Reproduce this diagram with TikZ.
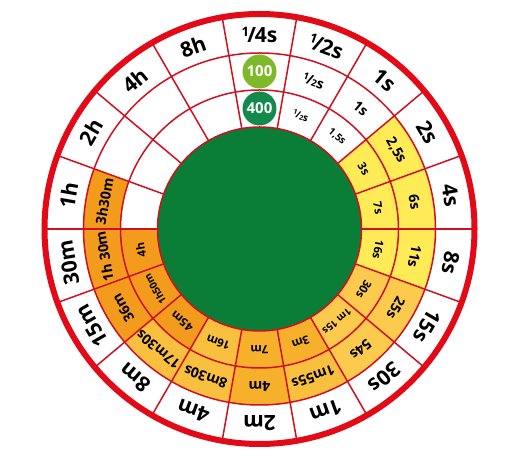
\documentclass[tikz,border=0pt]{standalone}
\usepackage{fontspec}
\setmainfont{Open Sans}
\definecolor{ringred}{HTML}{E30A17}
\definecolor{linered}{HTML}{CF1020}
\definecolor{disc}{HTML}{0A7E36}
\definecolor{cyel}{HTML}{FFEB55}
\definecolor{clor}{HTML}{FCCB4E}
\definecolor{cmor}{HTML}{F9BF3E}
\definecolor{cmdo}{HTML}{F7B02C}
\definecolor{cdor}{HTML}{F39B1C}
\definecolor{bliteg}{HTML}{7DB928}
\definecolor{bdarkg}{HTML}{138A4C}
\newcommand\ringcell[4]{%
  \fill[#1] ({#2-10}:#3) arc[start angle={#2-10}, end angle={#2+10}, radius=#3]
    -- ({#2+10}:#4) arc[start angle={#2+10}, end angle={#2-10}, radius=#4] -- cycle;}
\newcommand\rfrac[1]{\raisebox{0.32em}{\scalebox{0.62}{1}}\kern-0.08em/\kern-0.05em#1}
\newcommand\hfrac{\raisebox{0.3em}{\scalebox{0.68}{1}}\kern-0.05em/\kern-0.05em\scalebox{0.68}{2}}
\begin{document}
\begin{tikzpicture}[x=1pt,y=1pt,
  thinline/.style={linered, line width=1.5pt},
  olabel/.style={font=\bfseries\fontsize{21}{21}\selectfont, inner sep=0pt},
  mlabel/.style={font=\bfseries\fontsize{14}{14}\selectfont, inner sep=0pt},
  ilabel/.style={font=\bfseries\fontsize{11.5}{11.5}\selectfont, inner sep=0pt},
  slabel/.style={font=\bfseries\fontsize{10}{10}\selectfont, inner sep=0pt},
  badge/.style={circle, inner sep=0pt, minimum size=34pt, text=white, font=\bfseries\fontsize{15}{15}\selectfont}]
\useasboundingbox (0,0) rectangle (516,457);
\begin{scope}[shift={(259.5,228)}]
  \fill[white] (0,0) circle (215);
  % middle ring cells (139..176)
  \ringcell{cyel}{30}{139}{176}
  \ringcell{cyel}{10}{139}{176}
  \ringcell{cyel}{-10}{139}{176}
  \ringcell{clor}{-30}{139}{176}
  \ringcell{clor}{-50}{139}{176}
  \ringcell{cmor}{-70}{139}{176}
  \ringcell{cmdo}{-90}{139}{176}
  \ringcell{cmor}{-110}{139}{176}
  \ringcell{cmor}{-130}{139}{176}
  \ringcell{cdor}{-150}{139}{176}
  \ringcell{cdor}{-170}{139}{176}
  \ringcell{cdor}{170}{139}{176}
  % inner ring cells (102..139)
  \ringcell{cyel}{30}{102}{139}
  \ringcell{cyel}{10}{102}{139}
  \ringcell{cyel}{-10}{102}{139}
  \ringcell{clor}{-30}{102}{139}
  \ringcell{clor}{-50}{102}{139}
  \ringcell{cmdo}{-70}{102}{139}
  \ringcell{cmdo}{-90}{102}{139}
  \ringcell{cmor}{-110}{102}{139}
  \ringcell{cdor}{-130}{102}{139}
  \ringcell{cdor}{-150}{102}{139}
  \ringcell{cdor}{-170}{102}{139}
  % disc
  \fill[disc] (0,0) circle (102);
  \draw[thinline] (0,0) circle (102);
  \draw[thinline] (0,0) circle (139);
  \draw[thinline] (0,0) circle (176);
  \foreach \a in {0,20,...,340} \draw[thinline] (\a:102) -- (\a:213);
  \draw[ringred, line width=6pt] (0,0) circle (215);
  % outer labels
  \foreach \a/\t [count=\i] in {90/{\rfrac{4}s}, 70/{\rfrac{2}s}, 50/1s, 30/2s, 10/4s, -10/8s, -30/15s, -50/30s, -70/1m, -90/2m, -110/4m, -130/8m, -150/15m, -170/30m, 170/1h, 150/2h, 130/4h, 110/8h}
    \node[olabel, rotate={\a-90}] (o\i) at (\a:194) {\t};
  % middle labels
  \foreach \a/\t [count=\i] in {70/{\hfrac s}, 50/1s, 30/{2,5s}, 10/6s, -10/11s, -30/25s, -50/54s, -70/1m55s, -90/4m, -110/8m30s, -130/17m30s, -150/36m, -170/{1h 30m}, 170/3h30m}
    \node[mlabel, rotate={\a-90}] (m\i) at (\a:157.5) {\t};
  % inner labels
  \foreach \a/\t [count=\i] in {30/3s, 10/7s, -10/16s, -30/30s, -70/3m, -90/7m, -110/16m, -130/45m, -170/4h}
    \node[ilabel, rotate={\a-90}] (i\i) at (\a:120.5) {\t};
  \foreach \a/\t [count=\i] in {70/{\hfrac s}, 50/{1,5s}, -50/{1m 15s}, -150/1h50m}
    \node[slabel, rotate={\a-90}] (s\i) at (\a:120.5) {\t};
  % badges
  \node[badge, fill=bliteg] (b100) at (90:157.5) {100};
  \node[badge, fill=bdarkg] (b400) at (90:120.5) {400};
\end{scope}
\end{tikzpicture}
\end{document}
